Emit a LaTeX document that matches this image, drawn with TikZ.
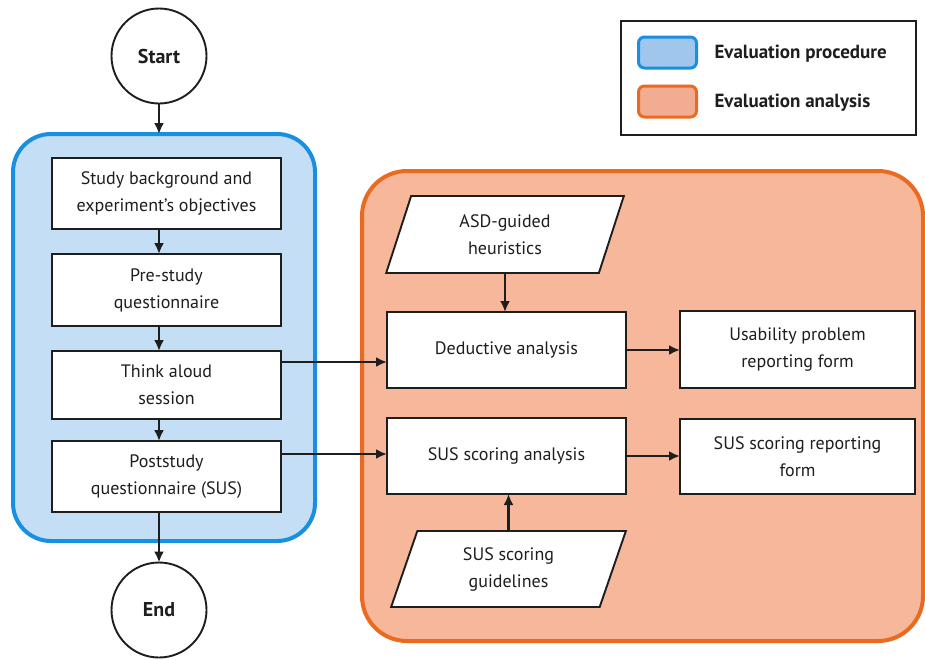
\documentclass[tikz,border=0pt]{standalone}
\usepackage{fontspec}
\setmainfont{PT Sans}
\usetikzlibrary{shapes.geometric,arrows.meta}
\definecolor{bfill}{RGB}{196,222,245}
\definecolor{bline}{RGB}{25,143,226}
\definecolor{bswatch}{RGB}{160,198,236}
\definecolor{ofill}{RGB}{246,183,154}
\definecolor{oline}{RGB}{234,106,32}
\definecolor{oswatch}{RGB}{242,172,146}
\definecolor{txt}{RGB}{30,30,30}
\begin{document}
\begin{tikzpicture}[x=1pt,y=-1pt,
  box/.style={draw=txt, line width=1.9pt, fill=white, align=center, text=txt,
    font=\fontsize{18}{27}\selectfont, inner sep=2pt, outer sep=0pt},
  para/.style={box, shape=trapezium, trapezium left angle=74, trapezium right angle=106,
    trapezium stretches=true},
  term/.style={draw=txt, line width=1.9pt, fill=white, circle, minimum size=95pt,
    font=\fontsize{20}{24}\selectfont\bfseries, text=txt, outer sep=0pt},
  arr/.style={draw=txt, line width=2.3pt, -{Latex[length=11pt,width=10pt]}},
  legtext/.style={font=\fontsize{19}{23}\selectfont\bfseries, text=txt, anchor=west}
]
\useasboundingbox (0,0) rectangle (925,659);
\fill[white] (0,0) rectangle (925,659);

% containers
\node[draw=bline, line width=4pt, fill=bfill, rounded corners=38pt,
  minimum width=302pt, minimum height=407pt, outer sep=0pt] (proc) at (164,337.5) {};
\node[draw=oline, line width=4pt, fill=ofill, rounded corners=45pt,
  minimum width=561pt, minimum height=470pt, outer sep=0pt] (anal) at (642.5,406) {};

% legend
\node[draw=txt, line width=1.9pt, minimum width=295pt, minimum height=114pt, outer sep=0pt] (legend) at (768.5,78) {};
\node[draw=bline, line width=3pt, fill=bswatch, rounded corners=6pt,
  minimum width=58pt, minimum height=31pt] (lb) at (667.5,52.5) {};
\node[draw=oline, line width=3pt, fill=oswatch, rounded corners=6pt,
  minimum width=58pt, minimum height=31pt] (lo) at (667.5,101.5) {};
\node[legtext] (lbt) at (711,54) {Evaluation procedure};
\node[legtext] (lot) at (711,103) {Evaluation analysis};

% terminals
\node[term] (start) at (159,56) {Start};
\node[term] (end) at (159,610) {End};

% procedure boxes
\node[box, minimum width=229pt, minimum height=71pt] (b1) at (166.5,193.5) {Study background and\\experiment’s objectives};
\node[box, minimum width=229pt, minimum height=72pt] (b2) at (166.5,290) {Pre-study\\questionnaire};
\node[box, minimum width=229pt, minimum height=68pt] (b3) at (166.5,385) {Think aloud\\session};
\node[box, minimum width=229pt, minimum height=71pt] (b4) at (166.5,476.5) {Poststudy\\questionnaire (SUS)};

% analysis nodes
\node[para, minimum width=238pt, minimum height=77pt] (asd) at (505,234.5) {ASD-guided\\heuristics};
\node[box, minimum width=239pt, minimum height=76pt] (ded) at (506.5,350) {Deductive analysis};
\node[box, minimum width=239pt, minimum height=76pt] (sus) at (506.5,456) {SUS scoring analysis};
\node[para, minimum width=235pt, minimum height=76pt] (gl) at (508.5,569) {SUS scoring\\guidelines};
\node[box, minimum width=235pt, minimum height=77pt] (use) at (797.5,349.5) {Usability problem\\reporting form};
\node[box, minimum width=235pt, minimum height=75pt] (rep) at (797.5,456.5) {SUS scoring reporting\\form};

% connectors
\draw[arr] (start.south) -- (start.south |- proc.north);
\draw[arr] (b1.south -| start) -- (b2.north -| start);
\draw[arr] (b2.south -| start) -- (b3.north -| start);
\draw[arr] (b3.south -| start) -- (b4.north -| start);
\draw[arr] (b4.south -| start) -- (end.north);
\draw[arr] ([yshift=23pt]b3.east) coordinate (t1) -- (t1 -| ded.west);
\draw[arr] ([yshift=22.5pt]b4.east) coordinate (t2) -- (t2 -| sus.west);
\draw[arr] (asd.south) -- (asd.south |- ded.north);
\draw[arr] (gl.north) -- (gl.north |- sus.south);
\draw[arr] (ded.east) -- (ded.east -| use.west);
\draw[arr] (sus.east) -- (sus.east -| rep.west);
\end{tikzpicture}
\end{document}
